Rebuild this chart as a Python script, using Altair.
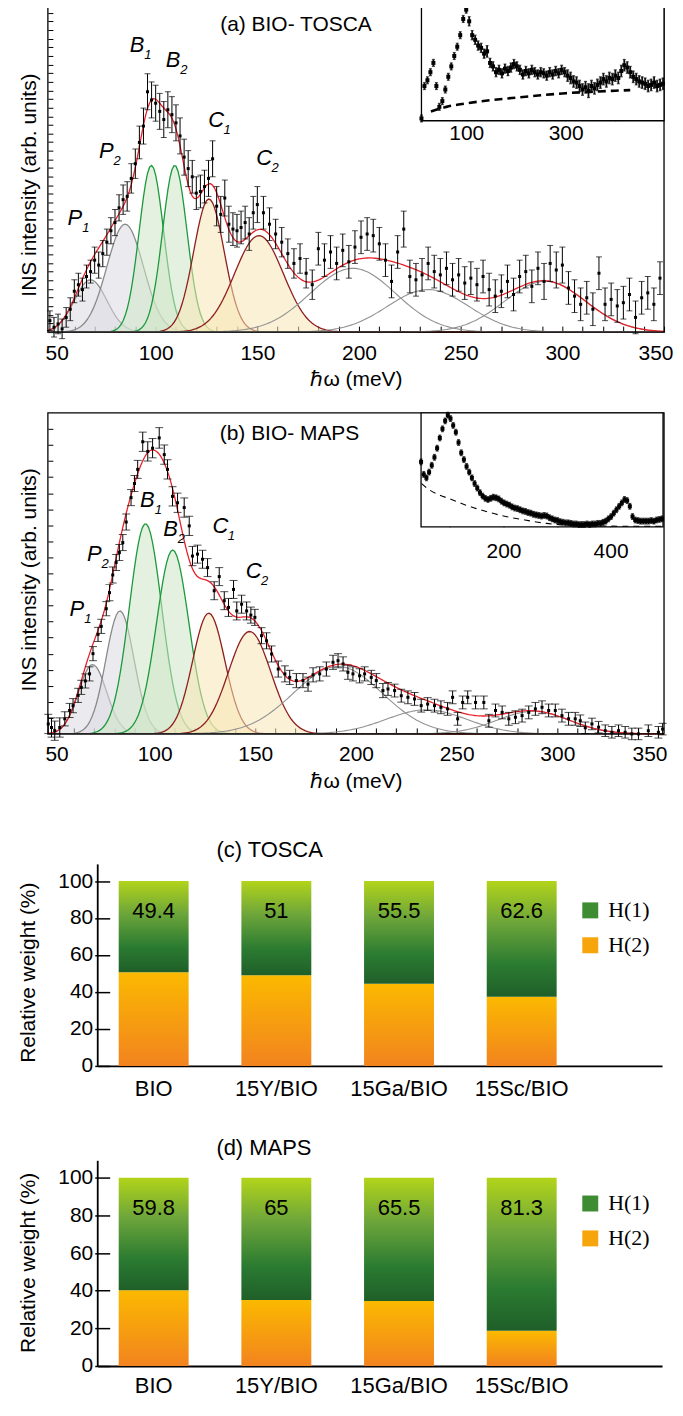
import altair as alt
import numpy as np
import pandas as pd

FONT = "Liberation Sans"
SERIF = "Liberation Serif"

# ======================= (a) BIO - TOSCA =======================
a_fine_x0, a_fine_dx = 48, 2
a_fine_y = [3.5, 1.5, 2.5, 1.0, 4.5, 7.0, 12.5, 14.5, 13.0, 17.0,
            18.5, 22.0, 20.5, 24.0, 27.5, 31.0, 33.5, 38.0, 40.5, 41.5,
            47.0, 51.5, 58.0, 63.0, 73.5, 71.0, 70.0, 67.5, 65.0, 68.0,
            66.5, 64.0, 60.0, 53.5, 50.0, 47.5, 42.5, 43.0, 44.5, 47.0,
            53.0, 38.5, 36.0, 41.0, 33.0, 31.5, 31.0, 32.0, 33.5, 30.0,
            36.5, 39.0]
a_fine_err = [3.0, 3.0, 3.0, 3.0, 3.0, 3.5, 3.5, 3.5, 3.5, 3.5,
              3.5, 4.0, 4.0, 4.0, 4.0, 4.0, 4.0, 4.0, 4.5, 4.5,
              4.5, 4.5, 5.0, 5.5, 5.5, 5.5, 5.5, 5.5, 5.5, 5.5,
              5.5, 5.5, 5.5, 5.5, 5.5, 5.0, 5.0, 5.0, 5.0, 5.5,
              5.5, 6.0, 5.5, 5.5, 5.5, 5.0, 5.0, 5.0, 5.0, 5.0,
              5.0, 5.5]
a_coarse_x0, a_coarse_dx = 153, 3
a_coarse_y = [36.5, 33.0, 30.0, 27.5, 24.0, 21.0, 22.5, 18.0, 14.5, 25.5,
              22.0, 24.5, 21.0, 25.0, 21.5, 26.0, 29.0, 30.0, 29.5, 27.0,
              22.0, 15.5, 24.5, 31.5, 17.0, 16.0, 17.5, 21.0, 18.5, 17.5,
              19.5, 16.0, 17.5, 15.0, 16.5, 14.5, 17.0, 13.0, 11.0, 12.5,
              15.5, 11.5, 17.0, 18.5, 14.0, 19.5, 15.5, 21.0, 19.0, 20.5,
              13.5, 11.0, 8.5, 10.5, 7.0, 18.0, 8.5, 10.0, 8.0, 9.0,
              11.5, 4.5, 10.5, 12.0, 8.5, 16.5]
a_coarse_err = [5.0, 5.0, 4.5, 4.5, 4.5, 4.5, 4.5, 4.5, 4.5, 5.0,
                5.0, 5.0, 5.0, 5.0, 5.0, 5.0, 5.0, 5.0, 5.0, 5.0,
                5.0, 5.0, 5.0, 5.5, 5.0, 5.0, 5.0, 5.0, 5.0, 5.0,
                5.0, 5.0, 5.0, 5.0, 5.0, 5.0, 5.0, 5.0, 5.0, 5.0,
                5.0, 5.0, 5.0, 5.0, 5.0, 5.0, 5.5, 5.5, 5.5, 5.5,
                5.0, 5.0, 5.0, 5.0, 5.0, 5.0, 5.0, 5.0, 5.0, 5.0,
                5.0, 5.0, 5.0, 5.0, 5.0, 5.0]

# fitted Gaussian components (centre meV, sigma meV, height)
a_comp_fam = ["P", "P", "B", "B", "C", "C", "G", "G", "G"]
a_comp_c = [68, 85, 97.9, 109.4, 126.2, 150.8, 197, 234, 291.5]
a_comp_s = [8, 9, 6, 6, 7.5, 12, 21, 20, 20]
a_comp_h = [16, 33, 51, 51, 40.7, 29.5, 19.5, 13.0, 15.5]

a_lab_txt = ["P", "P", "B", "B", "C", "C"]
a_lab_sub = ["1", "2", "1", "2", "1", "2"]
a_lab_x = [60.3, 75.7, 90.8, 108.5, 129.8, 153.4]
a_lab_y = [35.0, 55.5, 87.8, 83.2, 65.0, 53.3]

# inset (a)
ia_x0, ia_dx = 10, 6
ia_y = [2, 30, 35, 42, 50, 30, 12, 17, 27, 38,
        47, 56, 64, 74, 88, 96, 86, 74, 70, 65,
        63, 58, 60, 50, 47, 42, 44, 41, 45, 43,
        46, 49, 47, 44, 40, 43, 41, 44, 42, 40,
        42, 41, 39, 42, 40, 43, 41, 44, 42, 39,
        37, 34, 33, 30, 27, 29, 26, 30, 28, 31,
        33, 36, 34, 37, 36, 39, 37, 43, 48, 46,
        42, 38, 36, 34, 33, 32, 30, 31, 33, 30,
        31, 32]
ia_err = [3, 3, 3, 3, 3, 3, 3, 3, 3, 3,
          3, 3, 3, 3, 3, 3, 4, 4, 4, 4,
          4, 4, 5, 4, 4, 4, 4, 4, 4, 4,
          4, 4, 4, 4, 4, 4, 4, 4, 4, 4,
          4, 4, 4, 4, 4, 4, 4, 4, 4, 5,
          5, 5, 5, 5, 5, 5, 6, 5, 5, 5,
          5, 5, 5, 5, 5, 5, 5, 5, 5, 5,
          5, 5, 5, 5, 5, 5, 5, 5, 5, 5,
          5, 5]
ia_bg_x = [29, 60, 100, 150, 200, 250, 300, 350, 400, 430]
ia_bg_y = [8, 12, 15, 17.8, 20, 22, 23.8, 25, 26, 26.5]

# ======================= (b) BIO - MAPS =======================
b_x = [47.2, 48.8, 50.4, 52.9, 55.4, 57.8, 59.5, 62.0, 63.6, 65.6,
       67.7, 69.4, 71.9, 73.5, 76.0, 77.6, 79.2, 80.9, 82.5, 84.2,
       85.9, 88.3, 90.0, 91.6, 94.1, 96.6, 99.0, 102.3, 104.8, 106.4,
       108.9, 111.4, 114.7, 117.2, 118.8, 121.3, 123.8, 126.3, 129.6, 132.1,
       134.6, 136.7, 139.2, 140.8, 143.2, 145.7, 147.8, 149.8, 153.1, 155.6,
       158.1, 161.4, 164.7, 167.1, 170.4, 173.7, 176.2, 178.7, 182.0, 185.3,
       188.6, 191.1, 193.6, 196.0, 198.5, 201.8, 204.3, 207.6, 210.1, 213.4,
       215.9, 219.2, 222.5, 225.8, 229.1, 232.4, 235.6, 239.0, 242.2, 245.5,
       248.0, 250.5, 253.0, 255.5, 259.4, 263.5, 266.0, 269.3, 272.6, 275.9,
       279.2, 282.5, 285.8, 289.1, 292.4, 295.7, 299.0, 302.3, 305.6, 308.9,
       311.4, 313.9, 317.2, 320.5, 323.8, 327.1, 330.4, 333.7, 337.0, 340.3,
       345.2, 350.2, 352.3]
b_y = [3.1, 2.0, 1.0, 2.0, 4.7, 7.3, 8.8, 12.0, 14.5, 16.5,
       18.7, 25.0, 31.0, 33.5, 39.0, 44.0, 49.5, 53.4, 56.5, 59.6,
       66.0, 73.6, 78.0, 82.4, 91.0, 88.0, 89.0, 92.2, 87.0, 82.4,
       74.0, 72.0, 70.5, 64.8, 55.4, 56.0, 54.4, 51.8, 44.6, 49.0,
       41.5, 39.4, 45.0, 38.3, 40.4, 38.3, 37.0, 36.3, 30.6, 29.0,
       24.9, 20.2, 18.7, 17.6, 16.6, 16.6, 15.5, 18.4, 18.7, 20.2,
       22.3, 22.8, 21.8, 19.2, 18.7, 18.1, 18.7, 17.6, 16.6, 13.5,
       14.0, 13.5, 11.9, 11.4, 10.9, 8.8, 9.3, 8.8, 8.3, 7.8,
       11.4, 4.7, 9.8, 11.4, 9.8, 9.8, 4.1, 7.3, 6.7, 4.7,
       5.2, 5.7, 6.7, 7.8, 8.3, 7.3, 7.3, 5.7, 4.7, 4.7,
       4.1, 1.9, 3.1, 2.1, 1.0, 0.5, 1.0, 0.5, 0.0, 0.0,
       1.0, 0.5, 1.5]
b_err = [3.0, 3.0, 3.0, 3.0, 2.2, 2.2, 2.2, 2.2, 2.2, 2.2,
         2.2, 2.2, 2.2, 2.2, 2.2, 2.5, 2.5, 2.5, 2.5, 2.5,
         2.5, 2.5, 2.5, 2.8, 3.0, 3.0, 3.0, 3.2, 3.0, 3.0,
         3.0, 3.0, 3.0, 3.0, 3.0, 2.8, 2.8, 2.8, 2.8, 2.8,
         2.8, 2.8, 2.8, 2.8, 2.8, 2.8, 2.5, 2.5, 2.5, 2.5,
         2.5, 2.5, 2.5, 2.2, 2.2, 2.2, 2.2, 2.2, 2.2, 2.2,
         2.2, 2.2, 2.2, 2.2, 2.2, 2.2, 2.2, 2.2, 2.2, 2.2,
         2.0, 2.0, 2.0, 2.0, 2.0, 2.0, 2.0, 2.0, 2.0, 2.0,
         2.0, 2.0, 2.0, 2.0, 2.0, 2.0, 2.0, 2.0, 2.0, 2.0,
         2.0, 2.0, 2.0, 2.0, 2.0, 2.0, 2.0, 2.0, 2.0, 2.0,
         1.8, 1.8, 1.8, 1.8, 1.8, 1.8, 1.8, 1.8, 1.8, 1.8,
         1.8, 1.8, 1.8]

b_comp_fam = ["P", "P", "B", "B", "C", "C", "G", "G", "G"]
b_comp_c = [69.2, 82.8, 95.5, 109, 126.9, 147.2, 191, 235, 288]
b_comp_s = [7, 7, 8, 8, 8, 10.5, 22, 20, 18]
b_comp_h = [21.6, 38.3, 65.5, 57.3, 37.6, 31.9, 21, 7.5, 7]

b_lab_txt = ["P", "P", "B", "B", "C", "C"]
b_lab_sub = ["1", "2", "1", "2", "1", "2"]
b_lab_x = [61.4, 70.0, 96.4, 107.9, 132.7, 149.2]
b_lab_y = [38.9, 56.0, 73.0, 63.7, 64.8, 50.8]

# inset (b)
ib_x0, ib_dx = 46, 5
ib_y = [57, 46, 43, 48, 54, 61, 69, 78, 86, 93,
        98, 95, 89, 83, 74, 65, 59, 53, 48, 43,
        38, 34, 30, 27, 25, 24, 25, 26, 25.5, 24.5,
        22.5, 21, 20, 19, 17.5, 16.5, 16, 15, 14, 13.5,
        12.5, 12, 11, 10.5, 10, 9.5, 10, 9.5, 8, 7,
        6, 5.5, 4.5, 4, 3.5, 3.5, 3, 2.5, 2.5, 2,
        2, 2, 2.5, 2, 2.5, 2.5, 3, 3, 4, 5,
        7, 9, 12, 15, 18, 21, 24, 23, 18, 9,
        6, 5.5, 5, 5, 5, 5, 5.5, 5, 6, 6.5,
        7]
ib_err_half = 2.5
ib_bg_x = [47, 60, 80, 100, 130, 160, 200, 240, 280, 320, 380, 440, 498]
ib_bg_y = [38, 33, 28, 24.5, 19, 14.5, 9.5, 6, 3, 1.5, 0.8, 0.5, 0.5]

# ======================= (c)/(d) relative weights =======================
cats = ["BIO", "15Y/BIO", "15Ga/BIO", "15Sc/BIO"]
tosca_h1 = [49.4, 51, 55.5, 62.6]
maps_h1 = [59.8, 65, 65.5, 81.3]
series = ["H(1)", "H(2)"]
full_pct = 100
value_label_level = 84

FAM = {
    "P": ("#dadbe1", "#8a8a8a"),
    "B": ("#cfe6c6", "#1b9a3b"),
    "C": ("#f8e6b5", "#8e1f1f"),
    "G": (None, "#929292"),
}
GRAD_H1 = {"gradient": "linear", "x1": 0, "y1": 0, "x2": 0, "y2": 1,
           "stops": [{"offset": 0, "color": "#b2d41a"},
                     {"offset": 0.35, "color": "#6ea63a"},
                     {"offset": 0.72, "color": "#2b7b31"},
                     {"offset": 1, "color": "#1f5f29"}]}
GRAD_H2 = {"gradient": "linear", "x1": 0, "y1": 0, "x2": 0, "y2": 1,
           "stops": [{"offset": 0, "color": "#fbb900"},
                     {"offset": 1, "color": "#f2831f"}]}

W_ALL = 618


def spectrum_panel(W, H, xdom, yt_vals, pts, fams, cs, ss, hs, lab, title_txt,
                   title_xy, ytitle_y, cap, inset):
    xs = alt.Scale(domain=xdom, nice=False, zero=False)
    ys = alt.Scale(domain=[0, 100], nice=False, zero=False)
    x_axis = alt.Axis(values=list(range(50, 351, 10)),
                      labelExpr="datum.value % 50 === 0 ? datum.label : ''",
                      tickSize=6, offset=-6, domain=False, grid=False,
                      labelFontSize=21, labelPadding=10, labelFlush=10,
                      labelFlushOffset=9,
                      labelOverlap=False, tickColor="black", labelColor="black",
                      title="ℏω (meV)", titleFontSize=21, titleFontWeight="normal",
                      titlePadding=6, titleColor="black")
    y_axis = alt.Axis(values=yt_vals, labels=False, tickSize=5, offset=-5,
                      domain=False, grid=False, tickColor="black",
                      title="INS intensity (arb. units)", titleFontSize=21,
                      titleFontWeight="normal", titlePadding=8, titleColor="black",
                      titleY=ytitle_y)

    def X(f):
        return alt.X(f, type="quantitative", scale=xs, axis=x_axis)

    def Y(f):
        return alt.Y(f, type="quantitative", scale=ys, axis=y_axis)

    grid = np.arange(xdom[0], xdom[1] + 0.01, 1.0)
    layers = []
    total = np.zeros_like(grid)
    for fam, c, s, h in zip(fams, cs, ss, hs):
        g = h * np.exp(-(grid - c) ** 2 / (2 * s * s))
        total = total + g
        d = pd.DataFrame({"x": grid, "y": g})
        fill, line = FAM[fam]
        if fill:
            layers.append(alt.Chart(d).mark_area(
                fill=fill, fillOpacity=0.55,
                line={"color": line, "strokeWidth": 1.3}).encode(x=X("x"), y=Y("y")))
        else:
            layers.append(alt.Chart(d).mark_line(color=line, strokeWidth=1.1).encode(
                x=X("x"), y=Y("y")))
    fit = pd.DataFrame({"x": grid, "y": total})
    layers.append(alt.Chart(fit).mark_line(color="#e8202a", strokeWidth=1.3).encode(
        x=X("x"), y=Y("y")))

    px, py, pe = pts
    d = pd.DataFrame({"x": px, "y": py, "lo": [a - b for a, b in zip(py, pe)],
                      "hi": [a + b for a, b in zip(py, pe)]})
    layers.append(alt.Chart(d).mark_rule(color="black", strokeWidth=1).encode(
        x=X("x"), y=Y("lo"), y2="hi"))
    layers.append(alt.Chart(d).mark_tick(orient="horizontal", size=cap, thickness=1,
                                         color="black").encode(x=X("x"), y=Y("lo")))
    layers.append(alt.Chart(d).mark_tick(orient="horizontal", size=cap, thickness=1,
                                         color="black").encode(x=X("x"), y=Y("hi")))
    layers.append(alt.Chart(d).mark_square(size=9, color="black", opacity=1).encode(
        x=X("x"), y=Y("y")))

    lt, ls, lx, ly = lab
    dl = pd.DataFrame({"t": lt, "s": ls, "x": lx, "y": ly})
    layers.append(alt.Chart(dl).mark_text(font=FONT, fontSize=22, fontStyle="italic",
                                          color="black").encode(
        x=X("x"), y=Y("y"), text="t:N"))
    layers.append(alt.Chart(dl).mark_text(font=FONT, fontSize=13, fontStyle="italic",
                                          color="black", dx=11, dy=10).encode(
        x=X("x"), y=Y("y"), text="s:N"))
    dt = pd.DataFrame({"t": [title_txt], "x": [title_xy[0]], "y": [title_xy[1]]})
    layers.append(alt.Chart(dt).mark_text(font=FONT, fontSize=21, color="black").encode(
        x=X("x"), y=Y("y"), text="t:N"))
    one = pd.DataFrame({"k": [0]})
    layers.append(alt.Chart(one).mark_rect(fill="transparent", stroke="black",
                                           strokeWidth=1.3).encode(
        x=alt.X(datum=xdom[0], type="quantitative", scale=xs, axis=x_axis),
        x2=alt.datum(xdom[1]),
        y=alt.Y(datum=0, type="quantitative", scale=ys, axis=y_axis),
        y2=alt.datum(100)))
    main = alt.layer(*layers)

    # ---- inset ----
    (idom, irange, ibottom, itick, ipad, ilabels, ipts, ierr_caps, ibg, idash,
     idash_w) = inset
    ixs = alt.Scale(domain=idom, range=irange, nice=False, zero=False)
    iys = alt.Scale(domain=[0, 100], range=[ibottom, 0], nice=False, zero=False)
    ix_axis = alt.Axis(orient="bottom", values=[100, 200, 300, 400],
                       labelExpr="indexof(" + str(ilabels) + ", datum.value) >= 0 ? datum.label : ''",
                       tickSize=itick, offset=-(H - ibottom) - itick, domain=False,
                       grid=False, labelFontSize=21, labelPadding=ipad,
                       labelFlush=False, labelOverlap=False, tickColor="black",
                       labelColor="black", title=None)

    def IX(f):
        return alt.X(f, type="quantitative", scale=ixs, axis=ix_axis)

    def IY(f):
        return alt.Y(f, type="quantitative", scale=iys, axis=None)

    ilayers = []
    ilayers.append(alt.Chart(one).mark_rect(fill="white").encode(
        x=alt.X(datum=idom[0], type="quantitative", scale=ixs, axis=ix_axis),
        x2=alt.datum(idom[1]),
        y=alt.Y(datum=0, type="quantitative", scale=iys, axis=None),
        y2=alt.datum(100)))
    bx, by = ibg
    dbg = pd.DataFrame({"x": bx, "y": by})
    ilayers.append(alt.Chart(dbg).mark_line(color="black", strokeWidth=idash_w,
                                            strokeDash=idash, interpolate="monotone").encode(
        x=IX("x"), y=IY("y")))
    ix, iy, ie = ipts
    di = pd.DataFrame({"x": ix, "y": iy, "lo": [a - b for a, b in zip(iy, ie)],
                       "hi": [a + b for a, b in zip(iy, ie)]})
    ilayers.append(alt.Chart(di).mark_rule(color="#111", strokeWidth=1.8).encode(
        x=IX("x"), y=IY("lo"), y2="hi"))
    ilayers.append(alt.Chart(di).mark_tick(orient="horizontal", size=ierr_caps,
                                           thickness=1.2, color="#111").encode(
        x=IX("x"), y=IY("lo")))
    ilayers.append(alt.Chart(di).mark_tick(orient="horizontal", size=ierr_caps,
                                           thickness=1.2, color="#111").encode(
        x=IX("x"), y=IY("hi")))
    ilayers.append(alt.Chart(di).mark_square(size=16, color="black", opacity=1).encode(
        x=IX("x"), y=IY("y")))
    ilayers.append(alt.Chart(one).mark_rect(fill="transparent", stroke="black",
                                            strokeWidth=1.3).encode(
        x=alt.X(datum=idom[0], type="quantitative", scale=ixs, axis=ix_axis),
        x2=alt.datum(idom[1]),
        y=alt.Y(datum=0, type="quantitative", scale=iys, axis=None),
        y2=alt.datum(100)))
    inset_chart = alt.layer(*ilayers)

    return alt.layer(main, inset_chart).resolve_scale(
        x="independent", y="independent").properties(width=W, height=H)


# ---- build (a)
a_px = [a_fine_x0 + a_fine_dx * i for i in range(len(a_fine_y))] + \
       [a_coarse_x0 + a_coarse_dx * i for i in range(len(a_coarse_y))]
a_py = a_fine_y + a_coarse_y
a_pe = a_fine_err + a_coarse_err
ia_px = [ia_x0 + ia_dx * i for i in range(len(ia_y))]
n_ia = min(len(ia_y), len(ia_err))
a_yticks = [round(i * 2.64, 2) for i in range(38)]

panel_a = spectrum_panel(
    W_ALL, 328, [47, 350], a_yticks, (a_px, a_py, a_pe),
    a_comp_fam, a_comp_c, a_comp_s, a_comp_h,
    (a_lab_txt, a_lab_sub, a_lab_x, a_lab_y), "(a) BIO- TOSCA", (169, 94), 180, 6,
    ([10, 498], [374.7, 618], 116, 4, 2, [100, 300],
     (ia_px[:n_ia], ia_y[:n_ia], ia_err[:n_ia]), 3, (ia_bg_x, ia_bg_y), [8, 5], 2.6))

ib_px = [ib_x0 + ib_dx * i for i in range(len(ib_y))]
b_yticks = list(range(0, 100, 5))
n_b = min(len(b_x), len(b_y), len(b_err))
panel_b = spectrum_panel(
    W_ALL, 322, [47, 353], b_yticks, (b_x[:n_b], b_y[:n_b], b_err[:n_b]),
    b_comp_fam, b_comp_c, b_comp_s, b_comp_h,
    (b_lab_txt, b_lab_sub, b_lab_x, b_lab_y), "(b) BIO- MAPS", (167, 93.3), 167, 8,
    ([46, 498], [374.3, 617], 114.3, 8, 14, [200, 400],
     (ib_px, ib_y, [ib_err_half] * len(ib_y)), 3, (ib_bg_x, ib_bg_y), [6, 5], 1.1))


# ---- bar panels (plot origin shared with the spectra; axis drawn inside)
AXIS_X = 50          # pixel position of the bar chart's y axis inside the view
def bar_panel(h1_vals, title, H, ytop, title_val, legend_y, ytitle_y, lab_pad):
    df = pd.DataFrame({
        "cat": cats, "h1": h1_vals, "h2": [full_pct - v for v in h1_vals],
        "top": [full_pct] * len(cats),
        "lbl": [f"{v:g}" for v in h1_vals],
        "ly": [value_label_level] * len(cats)})
    xsc = alt.Scale(domain=cats, range=[AXIS_X, 616], paddingInner=0.43,
                    paddingOuter=0.515, align=0.166)
    x_axis = alt.Axis(title=None, labelAngle=0, ticks=False, tickSize=0,
                      domainColor="black", domainWidth=1.8, labelFontSize=22,
                      labelPadding=lab_pad, labelColor="black", grid=False)
    ysc = alt.Scale(domain=[0, ytop], nice=False, zero=False)
    y_axis = alt.Axis(values=[0, 20, 40, 60, 80, 100], tickSize=15,
                      offset=-(AXIS_X + 12),
                      domain=False, grid=False, labelFontSize=21, labelPadding=2,
                      tickColor="black", tickWidth=1.5, labelColor="black",
                      title="Relative weight (%)", titleFontSize=21,
                      titleFontWeight="normal", titlePadding=19, titleColor="black",
                      titleY=ytitle_y)
    X = alt.X("cat:N", scale=xsc, axis=x_axis, sort=cats)
    h2 = alt.Chart(df).mark_bar(color=GRAD_H2).encode(
        x=X, y=alt.Y("h2:Q", scale=ysc, axis=y_axis), y2=alt.datum(0))
    h1 = alt.Chart(df).mark_bar(color=GRAD_H1).encode(
        x=X, y=alt.Y("top:Q", scale=ysc, axis=y_axis), y2="h2:Q")
    txt = alt.Chart(df).mark_text(font=FONT, fontSize=22, color="black").encode(
        x=X, y=alt.Y("ly:Q", scale=ysc, axis=y_axis), text="lbl:N")
    one = pd.DataFrame({"k": [0]})
    yline = alt.Chart(one).mark_rule(color="black", strokeWidth=1.8).encode(
        x=alt.value(AXIS_X),
        y=alt.Y(datum=0, type="quantitative", scale=ysc, axis=y_axis),
        y2=alt.datum(109))
    ttl = alt.Chart(one).mark_text(font=FONT, fontSize=22, color="black",
                                   align="left").encode(
        x=alt.value(169),
        y=alt.Y(datum=title_val, type="quantitative", scale=ysc, axis=y_axis),
        text=alt.value(title))
    leg = alt.Chart(pd.DataFrame({"series": series})).mark_square(
        opacity=0, size=10).encode(
        color=alt.Color("series:N", scale=alt.Scale(domain=series,
                                                    range=["#3d8c32", "#f6a60c"]),
                        legend=alt.Legend(title=None, orient="none", legendX=533,
                                          legendY=legend_y, symbolType="square",
                                          symbolSize=256, symbolOpacity=1,
                                          symbolStrokeWidth=0, labelFont=SERIF,
                                          labelFontSize=22, labelColor="black",
                                          rowPadding=13, labelOffset=7, padding=0)))
    return alt.layer(h2, h1, txt, yline, ttl, leg).properties(width=W_ALL, height=H)


panel_c = bar_panel(tosca_h1, "(c) TOSCA", 252, 135.9, 117, 85, 158, 13)
panel_d = bar_panel(maps_h1, "(d) MAPS", 220, 116.5, 115.7, 46, 116, 10)

chart = alt.concat(panel_a, panel_b, panel_c, panel_d, columns=1, spacing=81,
                   bounds="flush").resolve_scale(
    color="independent").resolve_legend(color="independent").properties(
    padding={"left": 9, "top": -7, "right": 1, "bottom": -2}
).configure(font=FONT).configure_view(stroke="transparent")

chart.save("out.html", embed_options={"renderer": "svg", "actions": False})
